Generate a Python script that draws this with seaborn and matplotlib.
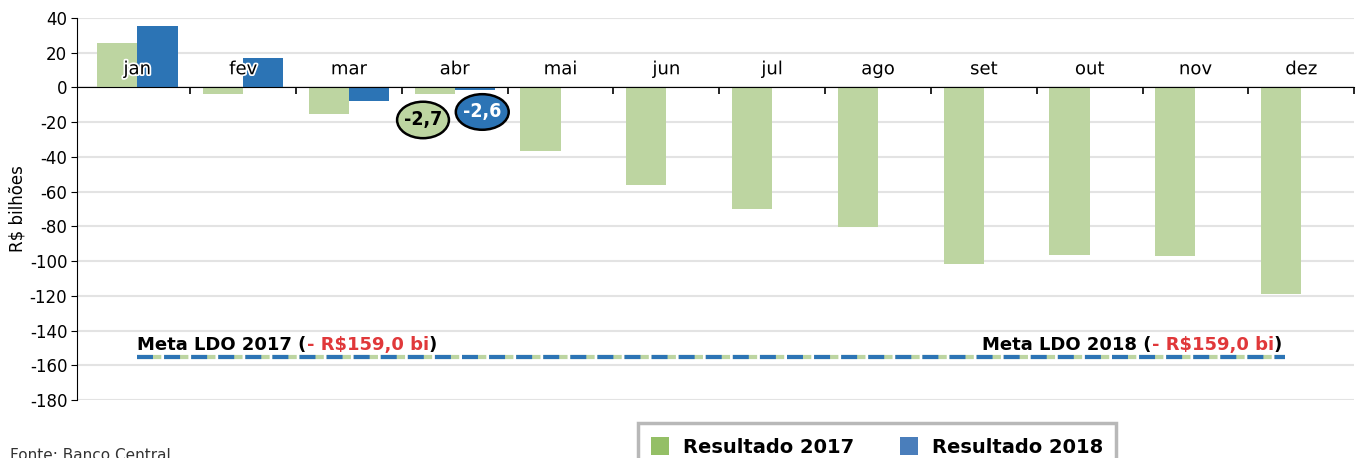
# Resultado primario acumulado 2017 x 2018
import pandas as pd
import seaborn as sns
import matplotlib.pyplot as plt
import matplotlib.patheffects as pe
from matplotlib.patches import Patch, Ellipse

# dados
meses = ["jan", "fev", "mar", "abr", "mai", "jun", "jul", "ago", "set", "out", "nov", "dez"]
res_2017 = [25.4, -3.8, -15.4, -3.8, -36.4, -56.0, -69.9, -80.1, -101.7, -96.5, -97.0, -119.2]
res_2018 = [35.3, 16.7, -7.9, -1.3]
meta = -155.5
rotulo_2017 = "-2,7"
rotulo_2018 = "-2,6"
yticks = list(range(-180, 41, 20))

verde = "#BDD5A1"
azul = "#2C74B5"
verde_leg = "#94BF66"
azul_leg = "#4A7EBB"
vermelho = "#E0383A"

sns.set_style("white")
plt.rcParams["font.family"] = ["DejaVu Sans"]
plt.rcParams["lines.scale_dashes"] = False
for k in ["text.color", "axes.labelcolor", "xtick.color", "ytick.color"]:
    plt.rcParams[k] = "black"

df = pd.DataFrame({
    "mes": meses * 2,
    "serie": ["Resultado 2017"] * 12 + ["Resultado 2018"] * 12,
    "valor": res_2017 + res_2018 + [None] * (12 - len(res_2018)),
}).dropna()

fig = plt.figure(figsize=(13.63, 4.58), dpi=100)
ax = fig.add_axes([0.0565, 0.1266, 0.937, 0.834])

sns.barplot(data=df, x="mes", y="valor", hue="serie", order=meses,
            hue_order=["Resultado 2017", "Resultado 2018"],
            palette=[verde, azul], width=0.76, gap=0, saturation=1,
            errorbar=None, legend=False, ax=ax, zorder=3, linewidth=0)

ax.set_xlim(-0.57, 11.5)
ax.set_ylim(-180, 40)
ax.set_yticks(yticks)
ax.set_yticklabels([str(v) for v in yticks], fontsize=12)
ax.yaxis.grid(True, color="#E3E3E3", lw=1.5, zorder=0)
ax.set_axisbelow(True)
ax.set_xlabel("")
ax.set_ylabel("R$ bilhões", fontsize=12, labelpad=2)

for s in ["top", "right"]:
    ax.spines[s].set_visible(False)
ax.spines["left"].set_color("black")
ax.spines["bottom"].set_color("black")
ax.spines["bottom"].set_position(("data", 0))
ax.spines["bottom"].set_zorder(4)
ax.tick_params(axis="y", left=True, length=4, color="black", pad=3)
ax.set_xticks([i + 0.5 for i in range(12)])
ax.set_xticklabels([])
ax.tick_params(axis="x", bottom=True, length=5, direction="out", color="black", width=1.2)

# rotulos dos meses acima da linha zero
for i, m in enumerate(meses):
    ax.text(i, 10.5, m, ha="center", va="center", fontsize=13, zorder=5,
            path_effects=[pe.withStroke(linewidth=2.5, foreground="white")])

# linha da meta (tracejado azul/verde)
ax.plot([0, 10.85], [meta, meta], color=verde, lw=3, dashes=(17.5, 2), zorder=4,
        solid_capstyle="butt", dash_capstyle="butt")
ax.plot([0, 10.85], [meta, meta], color=azul, lw=3, dashes=(11.5, 8), zorder=5,
        solid_capstyle="butt", dash_capstyle="butt")

# textos da meta (multicolor)
t1 = ax.text(0, -151.3, "Meta LDO 2017 (", fontsize=13, fontweight="bold", va="baseline")
t2 = ax.annotate("- R$159,0 bi", xy=(1, 0), xycoords=t1, va="bottom", fontsize=13,
                 fontweight="bold", color=vermelho)
ax.annotate(")", xy=(1, 0), xycoords=t2, va="bottom", fontsize=13, fontweight="bold")

r1 = ax.text(10.82, -151.3, ")", fontsize=13, fontweight="bold", va="baseline", ha="right")
r2 = ax.annotate("- R$159,0 bi", xy=(0, 0), xycoords=r1, va="bottom", ha="right",
                 fontsize=13, fontweight="bold", color=vermelho)
ax.annotate("Meta LDO 2018 (", xy=(0, 0), xycoords=r2, va="bottom", ha="right",
            fontsize=13, fontweight="bold")

# baloes de abril
ax.add_patch(Ellipse((2.70, -18.7), 0.49, 21.0, fc=verde, ec="black", lw=1.8, zorder=6))
ax.text(2.70, -18.7, rotulo_2017, ha="center", va="center", fontsize=14, fontweight="bold",
        fontstretch="condensed", color="black", zorder=7)
ax.add_patch(Ellipse((3.26, -14.1), 0.50, 20.5, fc=azul, ec="black", lw=1.8, zorder=6))
ax.text(3.26, -14.1, rotulo_2018, ha="center", va="center", fontsize=14, fontweight="bold",
        fontstretch="condensed", color="white", zorder=7)

# legenda (cortada na base, como no original)
handles = [Patch(fc=verde_leg, ec="none"), Patch(fc=azul_leg, ec="none")]
leg = fig.legend(handles, ["Resultado 2017", "Resultado 2018"], loc="upper left",
                 bbox_to_anchor=(0.468, 0.076), ncol=2, frameon=True, fancybox=False,
                 prop={"size": 14, "weight": "bold"}, handlelength=0.9, handleheight=1.1,
                 handletextpad=0.7, columnspacing=2.4, borderpad=0.7, borderaxespad=0)
leg.get_frame().set_edgecolor("#A6A6A6")
leg.get_frame().set_linewidth(2.5)

fig.text(0.007, 0.022, "Fonte: Banco Central", fontsize=11, color="#333333", va="top")

fig.savefig("out.png", dpi=100)
